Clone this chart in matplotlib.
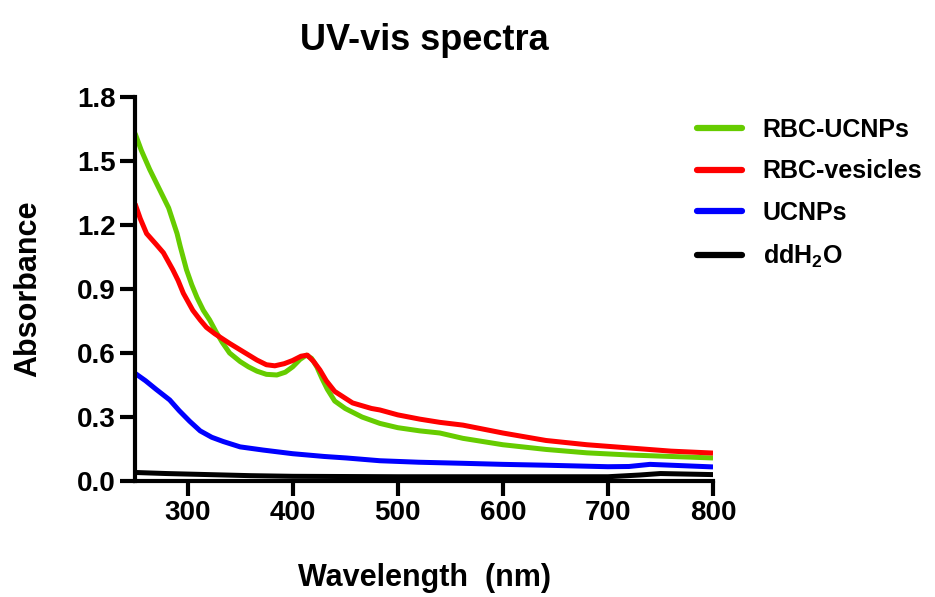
import numpy as np
import matplotlib
matplotlib.use("Agg")
import matplotlib.pyplot as plt

plt.rcParams['font.family'] = ['Liberation Sans', 'DejaVu Sans']
plt.rcParams['font.weight'] = 'bold'
plt.rcParams['mathtext.fontset'] = 'custom'
plt.rcParams['mathtext.rm'] = 'Liberation Sans:bold'
plt.rcParams['mathtext.bf'] = 'Liberation Sans:bold'

# values (wavelength nm, absorbance)
wl_rbc_ucnp = [250, 256, 264, 270, 277, 282, 286, 290, 293, 299, 304, 309, 315, 321, 327,
               333, 340, 350, 358, 366, 375, 385, 393, 400, 407, 413, 418, 423, 428, 433,
               440, 450, 466, 483, 500, 521, 540, 562, 600, 641, 680, 720, 760, 800]
ab_rbc_ucnp = [1.63, 1.55, 1.46, 1.40, 1.33, 1.28, 1.22, 1.16, 1.10, 0.99, 0.92, 0.86, 0.80,
               0.755, 0.70, 0.65, 0.60, 0.56, 0.535, 0.515, 0.50, 0.497, 0.51, 0.535, 0.57,
               0.59, 0.575, 0.535, 0.48, 0.43, 0.375, 0.34, 0.30, 0.27, 0.25, 0.235, 0.225,
               0.20, 0.17, 0.148, 0.132, 0.122, 0.115, 0.108]

wl_rbc_ves = [250, 255, 261, 270, 277, 286, 291, 296, 305, 312, 318, 326, 340, 355, 366,
              375, 383, 392, 400, 408, 414, 420, 426, 432, 440, 457, 475, 483, 500, 521,
              540, 562, 600, 641, 680, 720, 760, 800]
ab_rbc_ves = [1.30, 1.23, 1.16, 1.11, 1.07, 0.99, 0.94, 0.88, 0.80, 0.755, 0.72, 0.69, 0.645,
              0.60, 0.567, 0.545, 0.54, 0.55, 0.565, 0.585, 0.59, 0.56, 0.52, 0.47, 0.42,
              0.366, 0.34, 0.333, 0.31, 0.29, 0.275, 0.262, 0.225, 0.19, 0.17, 0.155, 0.14,
              0.131]

wl_ucnp = [250, 260, 270, 283, 292, 302, 312, 323, 334, 350, 372, 400, 430, 451, 483, 520,
           562, 600, 641, 700, 720, 740, 760, 800]
ab_ucnp = [0.505, 0.47, 0.43, 0.38, 0.33, 0.28, 0.235, 0.205, 0.185, 0.16, 0.145, 0.128,
           0.115, 0.108, 0.095, 0.088, 0.083, 0.078, 0.074, 0.067, 0.068, 0.078, 0.074, 0.066]

wl_water = [250, 280, 320, 360, 400, 500, 600, 700, 730, 750, 800]
ab_water = [0.040, 0.035, 0.030, 0.025, 0.022, 0.020, 0.020, 0.020, 0.028, 0.035, 0.030]

series = [
    ("RBC-UCNPs", wl_rbc_ucnp, ab_rbc_ucnp, "#66cc00"),
    ("RBC-vesicles", wl_rbc_ves, ab_rbc_ves, "#ff0000"),
    ("UCNPs", wl_ucnp, ab_ucnp, "#0000ff"),
    (r"ddH$_\mathbf{2}$O", wl_water, ab_water, "#000000"),
]

fig = plt.figure(figsize=(9.35, 5.97), dpi=100)
ax = fig.add_axes([0.1444, 0.1943, 0.6182, 0.6432])

for label, x, y, c in series:
    ax.plot(x, y, color=c, lw=3.6, label=label, solid_capstyle='butt')

ax.set_xlim(250, 800)
ax.set_ylim(0, 1.8)
ax.set_xticks(np.arange(300, 801, 100))
ax.set_yticks(np.arange(0, 1.81, 0.3))
ax.set_yticklabels([f"{v:.1f}" for v in np.arange(0, 1.81, 0.3)])
for s in ("top", "right"):
    ax.spines[s].set_visible(False)
for s in ("left", "bottom"):
    ax.spines[s].set_linewidth(3)
ax.tick_params(direction='out', length=11, width=3, labelsize=20, pad=3)

ax.set_title("UV-vis spectra", fontsize=26, fontweight='bold', pad=34)
ax.set_xlabel("Wavelength  (nm)", fontsize=22, fontweight='bold', labelpad=26)
ax.set_ylabel("Absorbance", fontsize=22, fontweight='bold', labelpad=24)

leg = fig.legend(loc='upper left', bbox_to_anchor=(0.745, 0.803), frameon=False,
                 fontsize=18, handlelength=1.8, handletextpad=0.85,
                 labelspacing=0.71, borderpad=0, borderaxespad=0)
for h in leg.get_lines():
    h.set_linewidth(4.5)
    h.set_solid_capstyle('round')

fig.savefig("out.png", dpi=100)
